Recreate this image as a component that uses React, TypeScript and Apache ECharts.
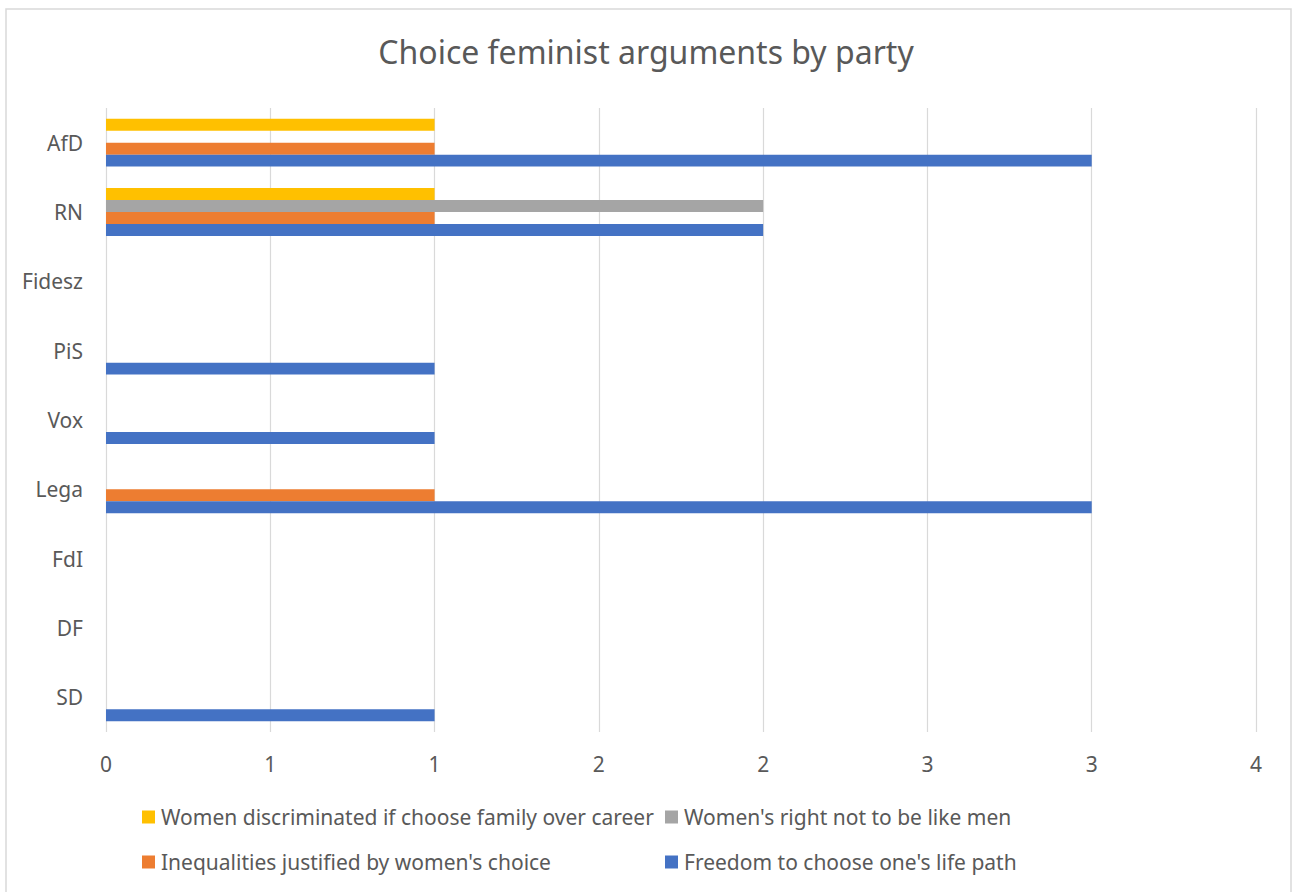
import React, { useEffect, useRef } from "react";
import * as echarts from "echarts";

const parties = ["SD", "DF", "FdI", "Lega", "Vox", "PiS", "Fidesz", "RN", "AfD"];
const seriesNames = [
  "Women discriminated if choose family over career",
  "Women's right not to be like men",
  "Inequalities justified by women's choice",
  "Freedom to choose one's life path",
];
const discriminated = [0, 0, 0, 0, 0, 0, 0, 1, 1];
const rightNotLikeMen = [0, 0, 0, 0, 0, 0, 0, 2, 0];
const inequalities = [0, 0, 0, 1, 0, 0, 0, 1, 1];
const freedom = [1, 0, 0, 3, 1, 1, 0, 2, 3];
const colors = ["#FFC000", "#A5A5A5", "#ED7D31", "#4472C4"];

const FONT = "'Noto Sans', 'Open Sans', sans-serif";
const TEXT = "#595959";

export default function App() {
  const ref = useRef<HTMLDivElement>(null);
  useEffect(() => {
    if (!ref.current) return;
    const chart = echarts.init(ref.current, undefined, { renderer: "svg" });
    const values = [discriminated, rightNotLikeMen, inequalities, freedom];
    chart.setOption({
      animation: false,
      backgroundColor: "#FFFFFF",
      textStyle: { fontFamily: FONT, color: TEXT },
      title: {
        text: "Choice feminist arguments by party",
        left: "center",
        top: 30,
        textStyle: { fontFamily: FONT, fontSize: 32, fontWeight: "normal", color: TEXT },
      },
      graphic: [
        {
          type: "rect",
          shape: { x: 6, y: 9, width: 1285, height: 900 },
          style: { fill: "none", stroke: "#D9D9D9", lineWidth: 1.5 },
          silent: true,
          z: -1,
        },
      ],
      grid: { left: 106, right: 36, top: 108, bottom: 160, containLabel: false },
      xAxis: {
        type: "value",
        min: 0,
        max: 3.5,
        interval: 0.5,
        axisLine: { show: false },
        axisTick: { show: false },
        splitLine: { show: true, lineStyle: { color: "#D9D9D9", width: 1.2 } },
        axisLabel: {
          color: TEXT,
          fontFamily: FONT,
          fontSize: 21,
          margin: 21,
          formatter: (v: number) => String(Math.round(v)),
        },
      },
      yAxis: {
        type: "category",
        data: parties,
        axisLine: { show: false },
        axisTick: { show: false },
        splitLine: { show: false },
        axisLabel: { color: TEXT, fontFamily: FONT, fontSize: 21, margin: 23 },
      },
      legend: [
        {
          orient: "vertical",
          left: 137,
          top: 800,
          itemWidth: 13,
          itemHeight: 13,
          itemGap: 21,
          icon: "rect",
          data: [seriesNames[0], seriesNames[2]],
          textStyle: { color: TEXT, fontFamily: FONT, fontSize: 21, lineHeight: 24, padding: [0, 0, 0, 1] },
        },
        {
          orient: "vertical",
          left: 660,
          top: 800,
          itemWidth: 13,
          itemHeight: 13,
          itemGap: 21,
          icon: "rect",
          data: [seriesNames[1], seriesNames[3]],
          textStyle: { color: TEXT, fontFamily: FONT, fontSize: 21, lineHeight: 24, padding: [0, 0, 0, 1] },
        },
      ],
      series: seriesNames.map((name, i) => ({
        name,
        type: "bar",
        data: values[i],
        itemStyle: { color: colors[i] },
        barGap: "0%",
        barCategoryGap: "31%",
      })),
    });
    return () => chart.dispose();
  }, []);
  return (
    <div
      ref={ref}
      style={{ position: "absolute", left: 0, top: 0, width: 1292, height: 892 }}
    />
  );
}
